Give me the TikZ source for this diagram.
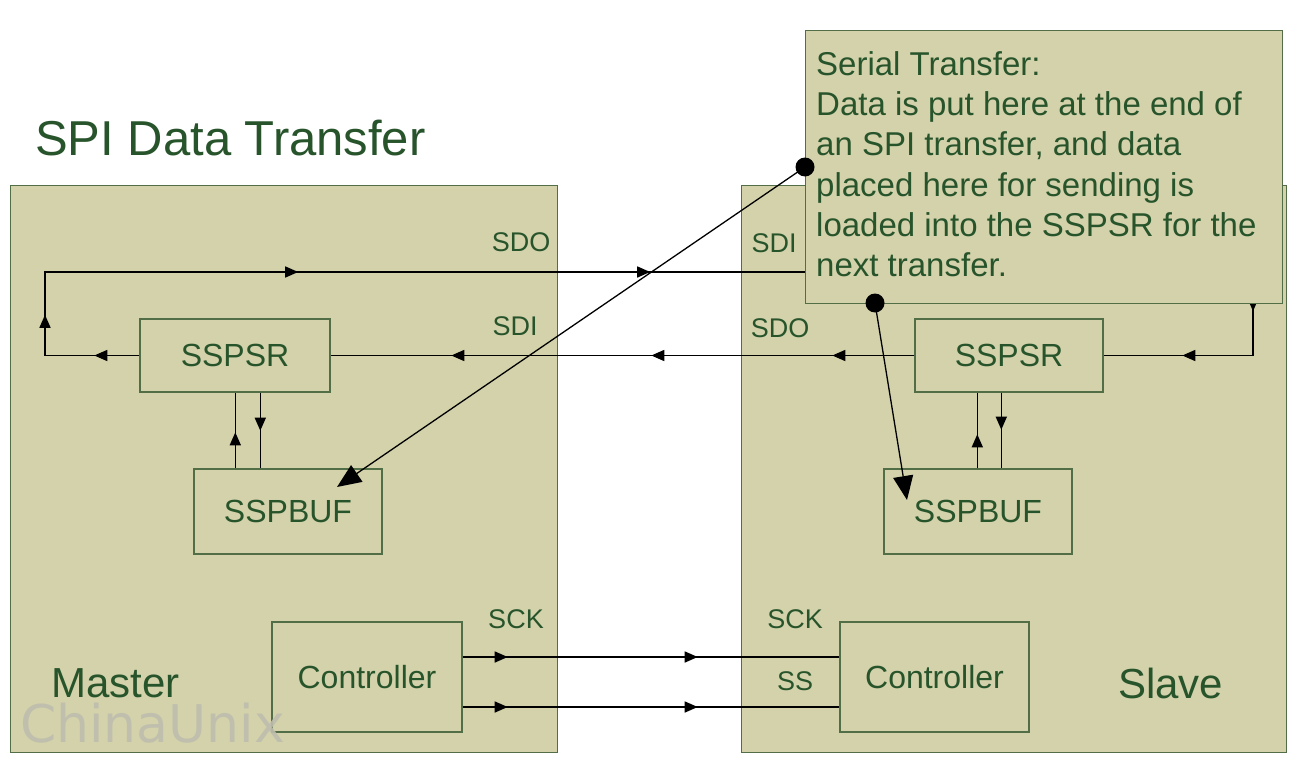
\documentclass[tikz,border=0pt]{standalone}
\usepackage{fontspec}
\setmainfont{Liberation Sans}
\newfontfamily\markfont{DejaVu Sans}
\usetikzlibrary{arrows.meta,decorations.markings}
\definecolor{panelfill}{RGB}{211,210,170}
\definecolor{edge}{RGB}{82,110,70}
\definecolor{ink}{RGB}{40,84,44}
\definecolor{wm}{RGB}{190,190,174}
\begin{document}
\begin{tikzpicture}[x=1pt,y=-1pt,
  panel/.style={draw=edge,fill=panelfill,line width=1.4pt,rectangle,inner sep=0pt},
  blk/.style={panel,text=ink,font=\fontsize{32}{38}\selectfont},
  wire/.style={line width=1.5pt,black},
  tipat/.style={postaction={decorate,decoration={markings,
      mark=at position #1 with {\arrow{Triangle[length=13pt,width=11pt]}}}}},
  lbl/.style={text=ink,inner sep=0pt,font=\fontsize{27}{32}\selectfont,anchor=base},
  side/.style={text=ink,inner sep=0pt,font=\fontsize{42}{48}\selectfont,anchor=base west},
  dot/.style={circle,fill=black,inner sep=0pt,minimum size=19pt},
  ptr/.style={line width=1.3pt,black,-{Triangle[length=24pt,width=20pt]}},
]
% canvas
\fill[white] (0,0) rectangle (1303,765);
\useasboundingbox (0,0) rectangle (1303,765);

% title
\node[anchor=base west,inner sep=0pt,text=ink,font=\fontsize{49}{56}\selectfont]
  (title) at (35,155) {SPI Data Transfer};

% master and slave panels
\node[panel,anchor=north west,minimum width=547pt,minimum height=567pt] (master) at (10,185) {};
\node[panel,anchor=north west,minimum width=545pt,minimum height=567pt] (slave) at (741,185) {};
\node[side] (mname) at (51,697) {Master};
\node[side] (sname) at (1118,698) {Slave};

% registers and controllers
\node[blk,minimum width=190pt,minimum height=73pt] (mSR) at (235,355.5) {SSPSR};
\node[blk,minimum width=188pt,minimum height=73pt] (sSR) at (1009,355.5) {SSPSR};
\node[blk,minimum width=188pt,minimum height=85pt] (mBUF) at (288,511.5) {SSPBUF};
\node[blk,minimum width=188pt,minimum height=85pt] (sBUF) at (978,511.5) {SSPBUF};
\node[blk,minimum width=190pt,minimum height=110pt] (mCtl) at (367,677) {Controller};
\node[blk,minimum width=189pt,minimum height=110pt] (sCtl) at (934.5,677) {Controller};

% pin labels
\node[lbl] (mSDO) at (521,251) {SDO};
\node[lbl] (mSDI) at (515,335) {SDI};
\node[lbl] (sSDI) at (774,252) {SDI};
\node[lbl] (sSDO) at (780,337) {SDO};
\node[lbl] (mSCK) at (516,628) {SCK};
\node[lbl] (sSCK) at (795,628) {SCK};
\node[lbl] (sSS)  at (795,690) {SS};

% data ring: master SSPSR -> SDO -> slave SDI ... slave SSPSR
\coordinate (loopL) at (45,272);
\coordinate (loopR) at (1253,272);
\draw[wire,tipat=45pt,tipat=135pt,tipat=431pt,tipat=783pt,tipat=1425pt,tipat=1540pt]
  (mSR.west) -| (loopL) -- (loopR) |- (sSR.east);
% slave SDO -> master SDI
\draw[wire,tipat=82pt,tipat=263pt,tipat=463pt] (sSR.west) -- (mSR.east);

% SSPSR <-> SSPBUF transfers
\path (mBUF.north west) ++(42,0) coordinate (mUp) ++(25,0) coordinate (mDn);
\path (sBUF.north west) ++(94,0) coordinate (sUp) ++(24,0) coordinate (sDn);
\draw[wire,tipat=36pt] (mUp) -- (mUp |- mSR.south);
\draw[wire,tipat=38pt] (mDn |- mSR.south) -- (mDn);
\draw[wire,tipat=34pt] (sUp) -- (sUp |- sSR.south);
\draw[wire,tipat=37pt] (sDn |- sSR.south) -- (sDn);

% clock and select lines
\draw[wire,tipat=45pt,tipat=235pt] (mCtl.east |- 0,657) -- (sCtl.west |- 0,657);
\draw[wire,tipat=45pt,tipat=235pt] (mCtl.east |- 0,707) -- (sCtl.west |- 0,707);

% serial transfer note
\node[panel,anchor=north west,minimum width=477pt,minimum height=273pt] (note) at (805,30) {};
\node[text=ink,inner sep=0pt,anchor=north west,align=left,
      font=\fontsize{33}{40.3}\selectfont] (notetext) at (816,51)
  {Serial Transfer:\\Data is put here at the end of\\an SPI transfer, and data\\placed here for sending is\\loaded into the SSPSR for the\\next transfer.};

% pointers from the note to both buffers
\node[dot] (d1) at (805,167) {};
\node[dot] (d2) at (875,303) {};
\coordinate (t1) at (337,487);
\coordinate (t2) at (907,500);
\draw[ptr] (d1.center) -- (t1);
\draw[ptr] (d2.center) -- (t2);

% watermark
\node[inner sep=0pt,anchor=base west,text=wm,opacity=0.9,
      font=\markfont\fontsize{52}{60}\selectfont] (wmark) at (20,742) {ChinaUnix};
\end{tikzpicture}
\end{document}
